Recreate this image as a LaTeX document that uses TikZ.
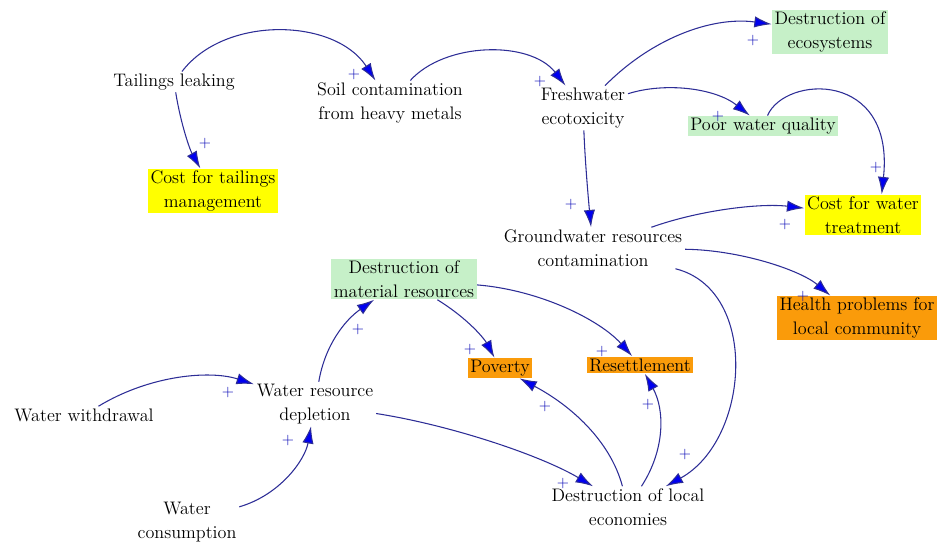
\documentclass[tikz,border=0pt]{standalone}
\usepackage{tikz}
\usetikzlibrary{arrows.meta}
\definecolor{linkblue}{RGB}{45,45,150}
\definecolor{headblue}{RGB}{0,0,240}
\definecolor{boxgreen}{RGB}{198,240,200}
\definecolor{boxyellow}{RGB}{255,255,0}
\definecolor{boxorange}{RGB}{250,155,10}
\tikzset{
  var/.style={align=center, font=\fontsize{13.6}{18}\selectfont, text=black, inner xsep=2pt, inner ysep=1.5pt},
  greenvar/.style={var, fill=boxgreen},
  yellowvar/.style={var, fill=boxyellow},
  orangevar/.style={var, fill=boxorange},
  link/.style={draw=linkblue, line width=0.8pt, -{Latex[length=13pt,width=8.5pt,fill=headblue]}},
  pls/.style={text=headblue!75!black, font=\fontsize{12}{12}\selectfont, inner sep=0pt}
}
\begin{document}
\begin{tikzpicture}[x=0.75pt,y=-0.75pt]
\useasboundingbox (0,0) rectangle (939,542);

\node[var] (tail) at (174,82) {Tailings leaking};
\node[var] (soil) at (390,103) {Soil contamination\\from heavy metals};
\node[var] (fresh) at (583,108) {Freshwater\\ecotoxicity};
\node[greenvar] (ecosys) at (830,32) {Destruction of\\ecosystems};
\node[greenvar] (poor) at (763,126) {Poor water quality};
\node[yellowvar] (costtail) at (213,191) {Cost for tailings\\management};
\node[yellowvar] (costwater) at (863,215) {Cost for water\\treatment};
\node[var] (ground) at (593,248) {Groundwater resources\\contamination};
\node[greenvar] (matres) at (404,279) {Destruction of\\material resources};
\node[orangevar] (health) at (857,318) {Health problems for\\local community};
\node[orangevar] (poverty) at (500,368) {Poverty};
\node[orangevar] (resettle) at (640,365) {Resettlement};
\node[var] (withdraw) at (84,415) {Water withdrawal};
\node[var] (depletion) at (315,404) {Water resource\\depletion};
\node[var] (consume) at (187,522) {Water\\consumption};
\node[var] (localecon) at (628,507) {Destruction of local\\economies};

\draw[link] (tail) .. controls (225,15) and (335,18) .. (soil);
\draw[link] (tail) .. controls (181,125) and (190,150) .. (costtail);
\draw[link] (soil) .. controls (445,42) and (530,40) .. (fresh);
\draw[link] (fresh) .. controls (650,40) and (710,16) .. (ecosys);
\draw[link] (fresh) .. controls (665,82) and (715,88) .. (poor);
\draw[link] (poor) .. controls (785,75) and (895,70) .. (costwater.48);
\draw[link] (fresh) .. controls (585,160) and (588,195) .. (ground);
\draw[link] (ground) .. controls (700,210) and (760,203) .. (costwater);
\draw[link] (ground) .. controls (740,250) and (800,270) .. (health);
\draw[link] (ground) .. controls (760,290) and (750,440) .. (localecon);
\draw[link] (matres) .. controls (470,320) and (485,340) .. (poverty);
\draw[link] (matres) .. controls (540,290) and (600,320) .. (resettle);
\draw[link] (withdraw) .. controls (150,375) and (210,370) .. (depletion);
\draw[link] (consume) .. controls (280,495) and (305,460) .. (depletion);
\draw[link] (depletion) .. controls (325,345) and (345,320) .. (matres);
\draw[link] (depletion) .. controls (450,425) and (540,455) .. (localecon);
\draw[link] (localecon) .. controls (610,440) and (570,405) .. (poverty);
\draw[link] (localecon) .. controls (665,450) and (665,410) .. (resettle);

\node[pls] (p1) at (354,75) {+};
\node[pls] (p2) at (205,144) {+};
\node[pls] (p3) at (540,82) {+};
\node[pls] (p4) at (753,41) {+};
\node[pls] (p5) at (718,117) {+};
\node[pls] (p6) at (876,168) {+};
\node[pls] (p7) at (571,205) {+};
\node[pls] (p8) at (785,225) {+};
\node[pls] (p9) at (803,297) {+};
\node[pls] (p10) at (685,455) {+};
\node[pls] (p11) at (470,350) {+};
\node[pls] (p12) at (602,352) {+};
\node[pls] (p13) at (228,393) {+};
\node[pls] (p14) at (288,441) {+};
\node[pls] (p15) at (358,330) {+};
\node[pls] (p16) at (563,484) {+};
\node[pls] (p17) at (545,407) {+};
\node[pls] (p18) at (648,405) {+};
\end{tikzpicture}
\end{document}
